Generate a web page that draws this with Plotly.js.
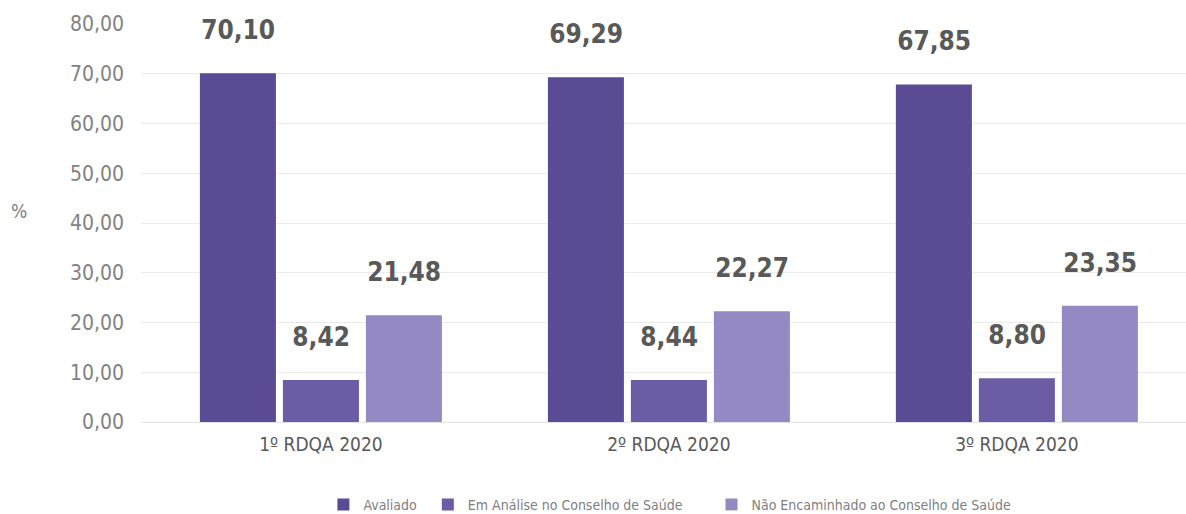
<!DOCTYPE html>
<html>
<head>
<meta charset="utf-8">
<script src="https://cdn.plot.ly/plotly-3.0.1.min.js"></script>
<style>
html,body{margin:0;padding:0;background:#fff;}
#chart{width:1186px;height:514px;}
#chart text{font-stretch:condensed !important;}
</style>
</head>
<body>
<div id="chart"></div>
<script>
var categories = ["1º RDQA 2020", "2º RDQA 2020", "3º RDQA 2020"];
var seriesNames = ["Avaliado", "Em Análise no Conselho de Saúde", "Não Encaminhado ao Conselho de Saúde"];
var avaliado = [70.10, 69.29, 67.85];
var emAnalise = [8.42, 8.44, 8.80];
var naoEncaminhado = [21.48, 22.27, 23.35];
var colors = ["#5b4b95", "#6b5ca5", "#9489c2"];

var FONT = "'DejaVu Sans', sans-serif";
var series = [avaliado, emAnalise, naoEncaminhado];

function fmt(v){ return v.toFixed(2).replace('.', ','); }

var traces = series.map(function(vals, i){
  return {
    type: 'bar', name: seriesNames[i], x: categories, y: vals,
    marker: {color: colors[i]}, hoverinfo: 'none'
  };
});

var annotations = [];
series.forEach(function(vals, i){
  vals.forEach(function(v, j){
    annotations.push({
      x: categories[j], y: v, xref: 'x', yref: 'y',
      text: fmt(v), showarrow: false,
      xshift: (i - 1) * 83, yshift: 43, yanchor: 'middle',
      font: {family: FONT, size: 26, color: '#595959', weight: 'bold'}
    });
  });
});
annotations.push({
  xref: 'paper', yref: 'paper', x: -0.117, y: 0.53, xanchor: 'center', yanchor: 'middle',
  text: '%', showarrow: false, font: {family: FONT, size: 19, color: '#7f7f7f'}
});

var layout = {
  width: 1186, height: 514,
  margin: {l: 141, r: 0, t: 24, b: 92, autoexpand: false},
  paper_bgcolor: '#ffffff', plot_bgcolor: '#ffffff',
  barmode: 'group', bargap: 0.2845, bargroupgap: 0.084,
  separators: ',.',
  font: {family: FONT, color: '#595959'},
  showlegend: true,
  legend: {orientation: 'h', x: 0.52, xanchor: 'center', y: -0.208, yanchor: 'middle',
           font: {family: FONT, size: 14, color: '#7f7f7f'}, traceorder: 'normal'},
  xaxis: {
    type: 'category', range: [-0.517, 2.486],
    showgrid: false, zeroline: false, showline: false, ticks: '',
    tickfont: {family: FONT, size: 19, color: '#595959'},
    ticklabelstandoff: 9, fixedrange: true
  },
  yaxis: {
    range: [0, 80], dtick: 10, tick0: 0, tickformat: '.2f',
    showgrid: true, gridcolor: '#ebebeb', gridwidth: 1,
    zeroline: true, zerolinecolor: '#e3e3e3', zerolinewidth: 1,
    showline: false, ticks: '',
    tickfont: {family: FONT, size: 21, color: '#828282'},
    ticklabelstandoff: 16, fixedrange: true
  },
  annotations: annotations
};

Plotly.newPlot('chart', traces, layout, {displayModeBar: false, staticPlot: true});
</script>
</body>
</html>
